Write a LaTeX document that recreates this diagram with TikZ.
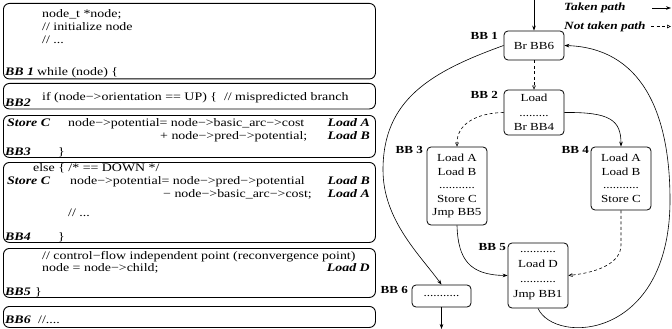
\documentclass[tikz,border=0pt]{standalone}
\usepackage{fontspec}
\setmainfont{Liberation Serif}[FakeStretch=1.21]
\usetikzlibrary{arrows.meta}
\begin{document}
\begin{tikzpicture}[x=1pt,y=-1pt,
  code/.style={anchor=base west, inner sep=0pt, font=\fontsize{11.5}{13}\selectfont},
  codeR/.style={anchor=base east, inner sep=0pt, font=\fontsize{11.5}{13}\selectfont\bfseries\itshape},
  bbl/.style={anchor=base west, inner sep=0pt, font=\fontsize{11.5}{13}\selectfont\bfseries\itshape},
  panel/.style={draw, line width=0.9pt, rounded corners=6pt, inner sep=0pt, anchor=north west, minimum width=372pt},
  bb/.style={draw, line width=0.8pt, rounded corners=4pt, inner sep=0pt, align=center, minimum width=60pt},
  bblabel/.style={anchor=east, inner sep=0pt, font=\fontsize{10.8}{13}\selectfont\bfseries},
  taken/.style={line width=0.6pt, -{Stealth[length=5pt,width=3.6pt]}},
  nottaken/.style={line width=0.6pt, dash pattern=on 3pt off 2.5pt, -{Triangle[open,length=4pt,width=3.6pt]}},
]
\useasboundingbox (0,0) rectangle (672,329);

% ---------- left panel ----------
\node[panel, minimum height=75.5pt] (p1) at (3,3) {};
\node[panel, minimum height=25.5pt] (p2) at (3,83) {};
\node[panel, minimum height=42pt] (p3) at (3,115) {};
\node[panel, minimum height=80pt] (p4) at (3,162) {};
\node[panel, minimum height=49pt] (p5) at (3,248) {};
\node[panel, minimum height=21pt] (p6) at (3,306) {};

\node[code] (t11) at (42,17.5) {node\_t *node;};
\node[code] (t12) at (42,30.5) {// initialize node};
\node[code] (t13) at (42,43.5) {// ...};
\node[bbl] (l1) at (5,75.5) {BB 1};
\node[code] (t14) at (37,75.5) {while (node) \{};

\node[code] (t21) at (42,100) {if (node−>orientation == UP) \{ ~// mispredicted branch};
\node[bbl] (l2) at (5,106.5) {BB2};

\node[bbl] (s3) at (7,126.5) {Store C};
\node[code] (t31) at (68,126.5) {node−>potential= node−>basic\_arc−>cost};
\node[codeR] (r31) at (370,126.5) {Load A};
\node[code] (t32) at (160,139.5) {+ node−>pred−>potential;};
\node[codeR] (r32) at (370,139.5) {Load B};
\node[bbl] (l3) at (5,155) {BB3};
\node[code] (t33) at (58,155) {\}};

\node[code] (t41) at (33,171) {else \{ /* == DOWN */};
\node[bbl] (s4) at (7,184) {Store C};
\node[code] (t42) at (70,184) {node−>potential= node−>pred−>potential};
\node[codeR] (r41) at (370,184) {Load B};
\node[code] (t43) at (163,197) {− node−>basic\_arc−>cost;};
\node[codeR] (r42) at (370,197) {Load A};
\node[code] (t44) at (68,216) {// ...};
\node[bbl] (l4) at (5,240) {BB4};
\node[code] (t45) at (58,240) {\}};

\node[code] (t51) at (42,259) {// control−flow independent point (reconvergence point)};
\node[code] (t52) at (42,271) {node = node−>child;};
\node[codeR] (r51) at (370,271) {Load D};
\node[bbl] (l5) at (5,295) {BB5};
\node[code] (t53) at (35,295) {\}};

\node[bbl] (l6) at (5,323) {BB6};
\node[code] (t61) at (38,323) {//....};

% ---------- legend ----------
\node[bbl, font=\fontsize{11}{13}\selectfont\bfseries\itshape] (lg1) at (564,11) {Taken path};
\node[bbl, font=\fontsize{11}{13}\selectfont\bfseries\itshape] (lg2) at (564,29.5) {Not taken path};
\coordinate (lt1) at (652,8);
\coordinate (lt2) at (671,8);
\coordinate (ln1) at (651,26.5);
\coordinate (ln2) at (671,26.5);
\draw[taken] (lt1) -- (lt2);
\draw[nottaken] (ln1) -- (ln2);

% ---------- CFG ----------
\node[bb, minimum height=29pt, font=\fontsize{10.8}{13.5}\selectfont] (b1) at (534,45.5) {Br BB6};
\node[bb, minimum height=45pt, font=\fontsize{10.8}{14.5}\selectfont] (b2) at (534,112.5) {Load\\.........\\Br BB4};
\node[bb, minimum height=78pt, font=\fontsize{10.8}{13.5}\selectfont] (b3) at (457,186) {Load A\\Load B\\...........\\Store C\\Jmp BB5};
\node[bb, minimum height=63pt, font=\fontsize{10.8}{13.5}\selectfont] (b4) at (621,178.5) {Load A\\Load B\\...........\\Store C};
\node[bb, minimum height=65pt, font=\fontsize{10.8}{15}\selectfont] (b5) at (538,275.5) {...........\\Load D\\...........\\Jmp BB1};
\node[bb, minimum width=59pt, minimum height=22pt, font=\fontsize{10.8}{13.5}\selectfont] (b6) at (441.5,296) {...........};

\node[bblabel] (n1) at (498,36) {BB 1};
\node[bblabel] (n2) at (498,95) {BB 2};
\node[bblabel] (n3) at (423,150) {BB 3};
\node[bblabel] (n4) at (589,150) {BB 4};
\node[bblabel] (n5) at (506,247) {BB 5};
\node[bblabel] (n6) at (408,290) {BB 6};

\coordinate (in1) at (534,0);
\coordinate (out6) at (441.5,329);

\draw[taken] (in1) -- (b1.north);
\draw[nottaken] (b1.south) -- (b2.north);
\draw[taken] (b1.west) .. controls (430,72) and (383,100) .. (383,170) .. controls (383,220) and (420,255) .. (b6.north);
\draw[nottaken] (b2.west) .. controls (475,113) and (457,125) .. (b3.north);
\draw[taken] (b2.east) .. controls (610,112) and (621,120) .. (b4.north);
\draw[taken] (b3.south) .. controls (458,260) and (470,275) .. (b5.west);
\draw[nottaken] (b4.south) -- (621,245) .. controls (621,262) and (600,272) .. (b5.east);
\draw[taken] (b5.south) .. controls (555,345) and (670,340) .. (670,200) .. controls (670,110) and (640,48) .. (b1.east);
\draw[taken] (b6.south) -- (out6);
\end{tikzpicture}
\end{document}
